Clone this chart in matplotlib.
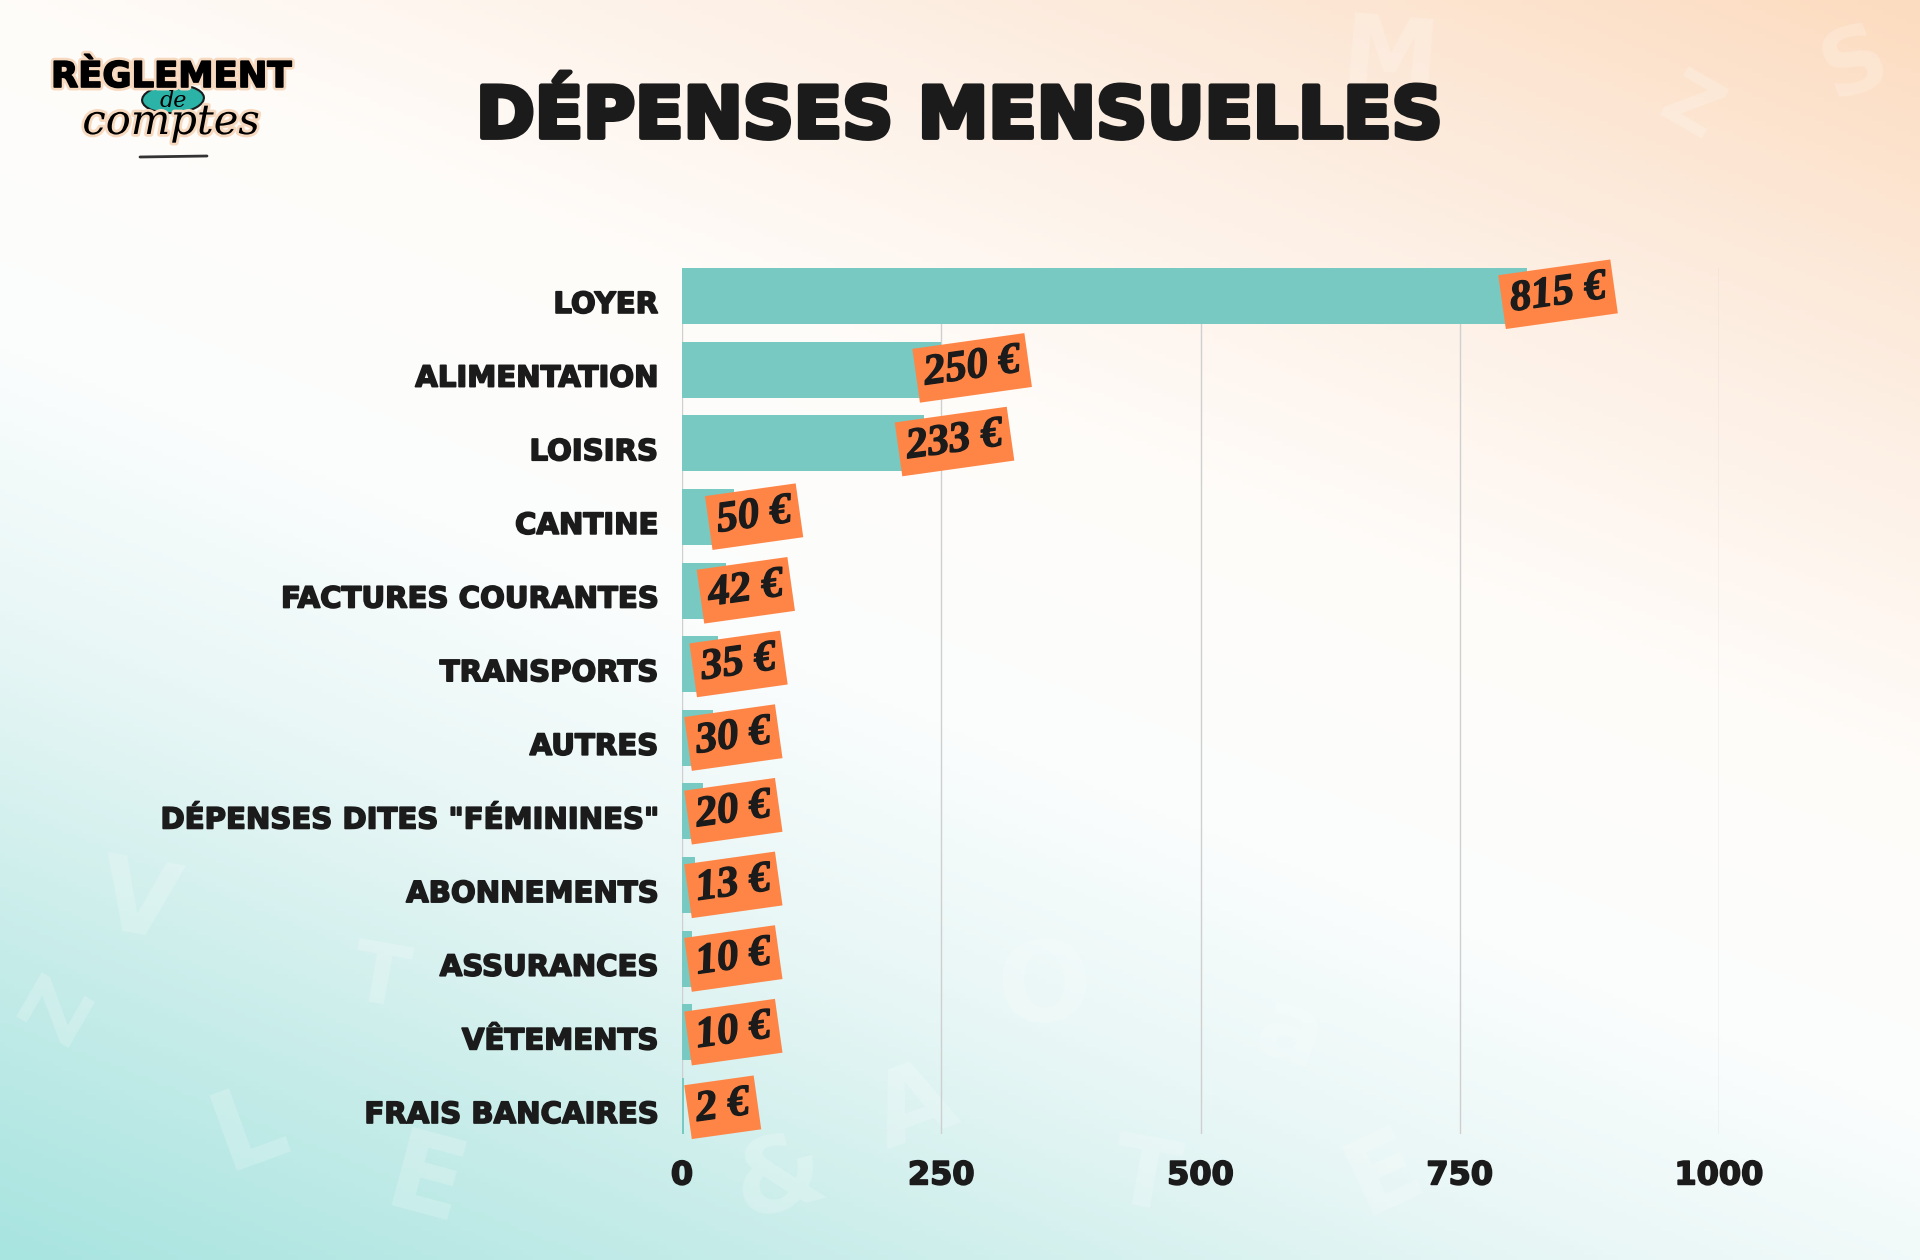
import matplotlib
matplotlib.use('Agg')
import matplotlib.pyplot as plt
import matplotlib.patheffects as pe
from matplotlib.colors import LinearSegmentedColormap
from matplotlib.patches import Ellipse
import numpy as np


categories = ['LOYER', 'ALIMENTATION', 'LOISIRS', 'CANTINE', 'FACTURES COURANTES',
              'TRANSPORTS', 'AUTRES', 'DÉPENSES DITES "FÉMININES"', 'ABONNEMENTS',
              'ASSURANCES', 'VÊTEMENTS', 'FRAIS BANCAIRES']
amounts = [815, 250, 233, 50, 42, 35, 30, 20, 13, 10, 10, 2]
x_ticks = [0, 250, 500, 750, 1000]

# faint letters scattered in the background: char, x px, y px, size, angle
deco_chars = ['M', 'Z', 'S', 'V', 'Z', 'L', 'E', 'T', 'O', 'A', 'T', 'E', 'a', '&']
deco_x = [1390, 1690, 1855, 138, 60, 250, 425, 380, 1045, 915, 1145, 1385, 1290, 780]
deco_y = [60, 110, 65, 905, 1010, 1130, 1185, 980, 990, 1110, 1180, 1175, 1035, 1180]
deco_size = [70, 55, 65, 75, 60, 80, 80, 60, 80, 75, 70, 75, 70, 75]
deco_angle = [-5, -30, 20, -10, 60, 20, -15, -10, 5, 20, -10, 25, -20, 15]

BAR = '#77c9c2'
BADGE = '#ff8547'
INK = '#1b1b1b'

fig = plt.figure(figsize=(19.2, 12.6), dpi=100)

# background gradient, teal at the bottom -> white -> peach top-right
bg = fig.add_axes([0, 0, 1, 1])
bg.set_axis_off()
xx, yy = np.meshgrid(np.linspace(0, 1, 400), np.linspace(0, 1, 260))
t = 0.38 * xx + 0.62 * yy
cmap = LinearSegmentedColormap.from_list('bg', [
    (0.0, '#a8e4e0'), (0.15, '#c6ece9'), (0.3, '#e6f6f5'), (0.45, '#fbfdfd'),
    (0.62, '#fffcf9'), (0.8, '#fdeee2'), (1.0, '#fcdcc0')])
bg.imshow(t, cmap=cmap, origin='lower', extent=[0, 1, 0, 1], aspect='auto',
          vmin=0, vmax=1)
bg.set_xlim(0, 1)
bg.set_ylim(0, 1)
for ch, dx, dy, sz, ang in zip(deco_chars, deco_x, deco_y, deco_size, deco_angle):
    bg.text(dx / 1920, 1 - dy / 1260, ch, fontsize=sz, fontweight='bold',
            color='white', alpha=0.2, rotation=ang, ha='center', va='center')

# logo
glow = [pe.withStroke(linewidth=4, foreground='#f7d9bf')]
fig.text(51 / 1920, 1 - 87 / 1260, 'RÈGLEMENT', fontsize=25.5, fontweight='bold',
         color='black', ha='left', va='baseline',
         path_effects=[pe.withStroke(linewidth=5, foreground='#f7d9bf'),
                       pe.withStroke(linewidth=1.2, foreground='black')])
bg.add_patch(Ellipse((173 / 1920, 1 - 99 / 1260), 62 / 1920, 28 / 1260, angle=6,
                     facecolor='#2bb3a8', edgecolor='#1b1b1b', lw=1.5))
fig.text(173 / 1920, 1 - 101 / 1260, 'de', fontsize=16, family='DejaVu Serif',
         style='italic', color='black', ha='center', va='center')
fig.text(171 / 1920, 1 - 134 / 1260, 'comptes', fontsize=30, family='DejaVu Serif',
         style='italic', color='black', ha='center', va='baseline',
         path_effects=glow)
bg.plot([140 / 1920, 207 / 1920], [1 - 157 / 1260, 1 - 156 / 1260],
        color='#333333', lw=2, solid_capstyle='round')

# title
fig.text(0.5, 1 - 118 / 1260, 'DÉPENSES MENSUELLES', fontsize=51, fontweight='bold',
         color=INK, ha='center', va='center',
         path_effects=[pe.withStroke(linewidth=3.5, foreground=INK)])

ax = fig.add_axes([682 / 1920, 1 - 1134 / 1260, 1037 / 1920, 866 / 1260])
ax.patch.set_alpha(0)
y = np.arange(len(categories))
ax.barh(y, amounts, height=0.76, color=BAR, zorder=2)
ax.set_xlim(0, 1000)
ax.set_ylim(len(categories) - 1 + 0.38, -0.38)
ax.set_xticks(x_ticks)
ax.set_xticklabels([str(v) for v in x_ticks])
ax.set_yticks([])
ax.tick_params(axis='x', length=0, pad=19, labelsize=23, labelcolor=INK)
heavy = [pe.withStroke(linewidth=1.2, foreground=INK)]
for lbl in ax.get_xticklabels():
    lbl.set_fontweight('bold')
    lbl.set_path_effects(heavy)
for i, cat in enumerate(categories):
    ax.annotate(cat, xy=(0, i), xycoords=('axes fraction', 'data'),
                xytext=(-24, -9), textcoords='offset pixels', ha='right',
                va='center', fontsize=21, fontweight='bold', color=INK,
                path_effects=heavy)
ax.grid(axis='x', color='#cfcfcf', lw=1, zorder=0)
for s in ax.spines.values():
    s.set_visible(False)

for i, v in enumerate(amounts):
    ax.annotate('%d €' % v, xy=(max(v, 30), i), xytext=(-17, -5),
                textcoords='offset pixels', ha='left', va='center',
                rotation=8, rotation_mode='anchor', fontsize=31,
                family='Liberation Serif', fontweight='bold', style='italic',
                color=INK, zorder=5,
                path_effects=[pe.withStroke(linewidth=1, foreground=INK)],
                bbox=dict(boxstyle='square,pad=0.19', facecolor=BADGE,
                          edgecolor='none'))

fig.savefig('out.png', dpi=100)
